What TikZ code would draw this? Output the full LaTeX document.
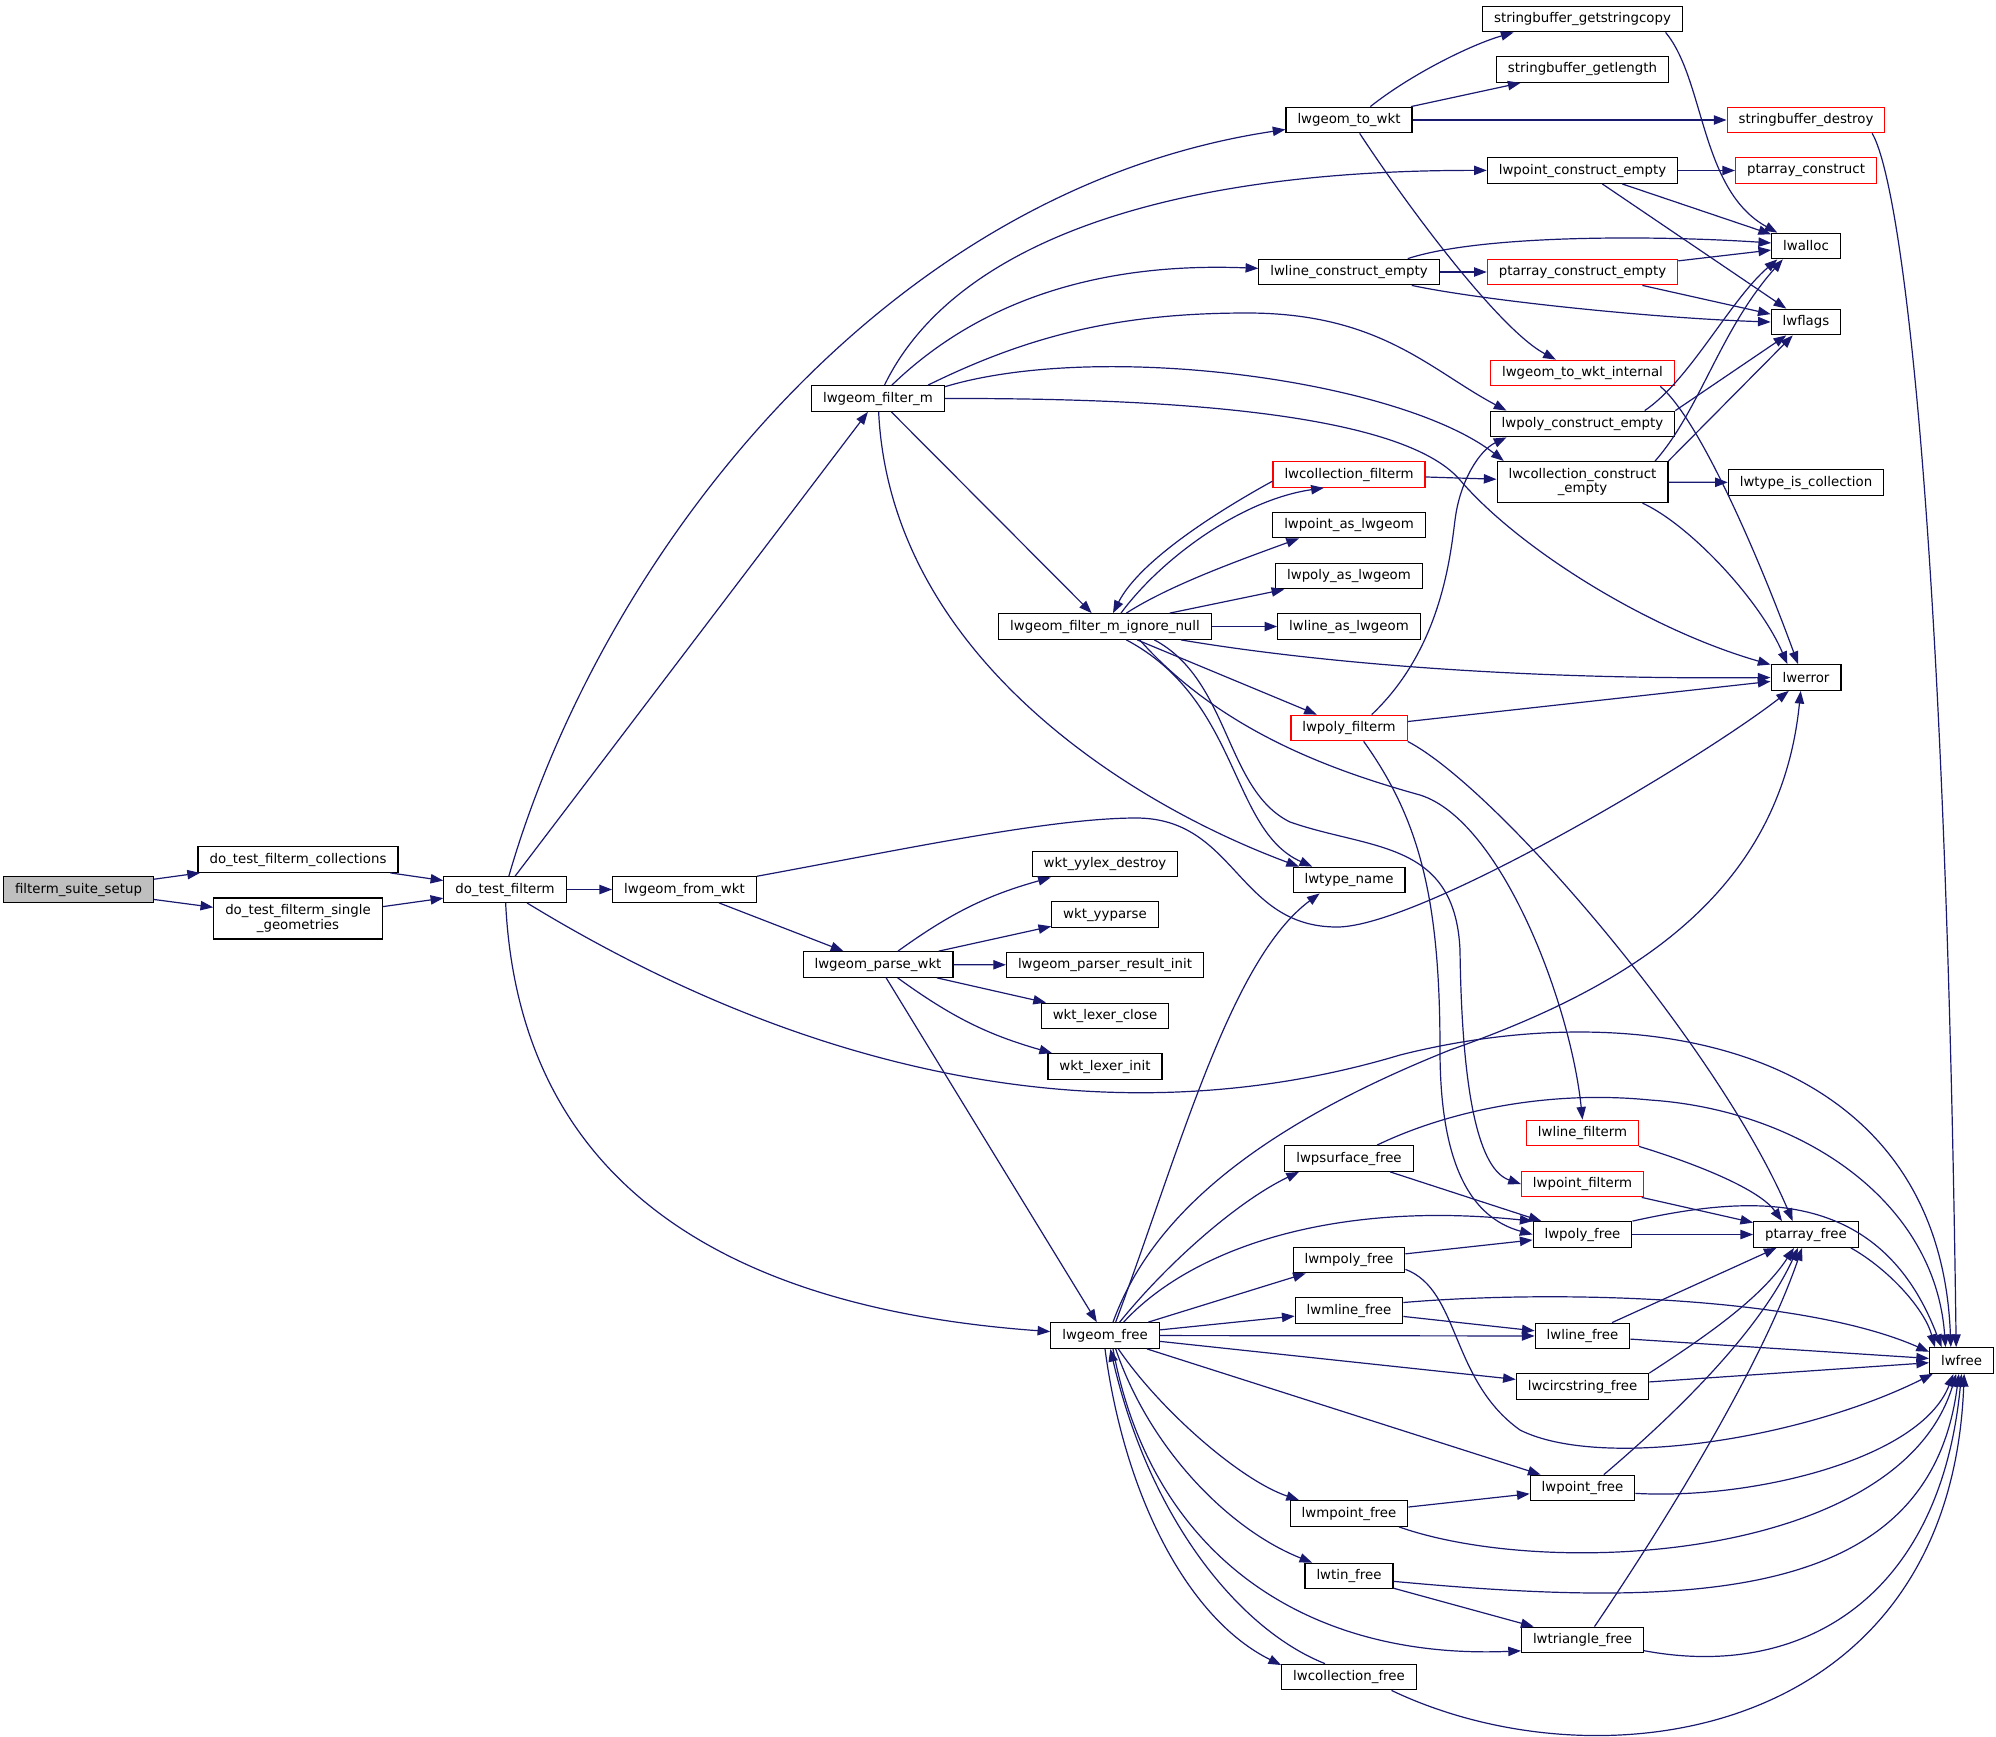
\documentclass[tikz,border=0pt]{standalone}
\usepackage{fontspec}
\setmainfont{DejaVu Sans}
\usetikzlibrary{arrows.meta}
\definecolor{edgeblue}{HTML}{191970}
\definecolor{rootgray}{HTML}{BFBFBF}

\begin{document}
\begin{tikzpicture}[->,>={Triangle[length=9.5pt,width=7pt]},x=0.75pt,y=-0.75pt,
	every edge/.style={draw=edgeblue,line width=0.9pt},
	call/.style={draw=edgeblue,line width=0.9pt},
	func node/.style={rectangle,draw=black,fill=white,line width=0.9pt,font=\fontsize{10}{10.7}\selectfont,inner xsep=8.6pt,inner ysep=2pt,minimum height=19.2pt,align=center},
	red node/.style={func node,draw=red},
	root node/.style={func node,fill=rootgray},
	two lines/.style={minimum height=30.75pt}]
	
	\useasboundingbox (0,0) rectangle (1996,1736);
	
	\node[root node] (S) at (78.5,889.5) {filterm\_suite\_setup};
	\node[func node] (C1) at (298,859.5) {do\_test\_filterm\_collections};
	\node[func node,two lines] (C2) at (298,918.5) {do\_test\_filterm\_single\\\_geometries};
	\node[func node] (T) at (505,889.5) {do\_test\_filterm};
	\node[func node] (F) at (684.5,889.5) {lwgeom\_from\_wkt};
	\node[func node] (M) at (878,398.5) {lwgeom\_filter\_m};
	\node[func node] (P) at (878,964.5) {lwgeom\_parse\_wkt};
	
	\node[func node] (I) at (1105,626.5) {lwgeom\_filter\_m\_ignore\_null};
	\node[func node] (YD) at (1105,864) {wkt\_yylex\_destroy};
	\node[func node] (YP) at (1105,914.5) {wkt\_yyparse};
	\node[func node] (PRI) at (1105,965) {lwgeom\_parser\_result\_init};
	\node[func node] (LC) at (1105,1016) {wkt\_lexer\_close};
	\node[func node] (LI) at (1105,1066.5) {wkt\_lexer\_init};
	\node[func node] (G) at (1105,1335.5) {lwgeom\_free};
	
	\node[func node] (W) at (1349,120) {lwgeom\_to\_wkt};
	\node[func node] (LCE) at (1349,272) {lwline\_construct\_empty};
	\node[red node] (CF) at (1349,474.5) {lwcollection\_filterm};
	\node[func node] (PAL) at (1349,525) {lwpoint\_as\_lwgeom};
	\node[func node] (YAL) at (1349,576) {lwpoly\_as\_lwgeom};
	\node[func node] (LAL) at (1349,626.5) {lwline\_as\_lwgeom};
	\node[red node] (PF) at (1349,728) {lwpoly\_filterm};
	\node[func node] (TN) at (1349,880) {lwtype\_name};
	\node[func node] (PSF) at (1349,1158.5) {lwpsurface\_free};
	\node[func node] (MPF) at (1349,1260) {lwmpoly\_free};
	\node[func node] (MLF) at (1349,1310.5) {lwmline\_free};
	\node[func node] (MPtF) at (1349,1513.5) {lwmpoint\_free};
	\node[func node] (TF) at (1349,1576) {lwtin\_free};
	\node[func node] (CoF) at (1349,1677) {lwcollection\_free};
	
	\node[func node] (SGC) at (1582.5,19) {stringbuffer\_getstringcopy};
	\node[func node] (SGL) at (1582.5,69.5) {stringbuffer\_getlength};
	\node[func node] (PCE) at (1582.5,170.5) {lwpoint\_construct\_empty};
	\node[red node] (PCEm) at (1582.5,272) {ptarray\_construct\_empty};
	\node[red node] (WI) at (1582.5,373) {lwgeom\_to\_wkt\_internal};
	\node[func node] (PyCE) at (1582.5,424) {lwpoly\_construct\_empty};
	\node[func node,two lines] (CCE) at (1582.5,482) {lwcollection\_construct\\\_empty};
	\node[red node] (LF) at (1582.5,1133) {lwline\_filterm};
	\node[red node] (PtF) at (1582.5,1184) {lwpoint\_filterm};
	\node[func node] (PyF) at (1582.5,1234.5) {lwpoly\_free};
	\node[func node] (LnF) at (1582.5,1336) {lwline\_free};
	\node[func node] (CSF) at (1582.5,1386.5) {lwcircstring\_free};
	\node[func node] (PtFr) at (1582.5,1488) {lwpoint\_free};
	\node[func node] (TrF) at (1582.5,1640) {lwtriangle\_free};
	
	\node[red node] (SD) at (1806,120) {stringbuffer\_destroy};
	\node[red node] (PC) at (1806,170.5) {ptarray\_construct};
	\node[func node] (AL) at (1806,246) {lwalloc};
	\node[func node] (FL) at (1806,322) {lwflags};
	\node[func node] (TIC) at (1806,482.5) {lwtype\_is\_collection};
	\node[func node] (E) at (1806,677.5) {lwerror};
	\node[func node] (PAF) at (1806,1234.5) {ptarray\_free};
	\node[func node] (L) at (1961.5,1360.5) {lwfree};
	
	\path
	(S) edge (C1)
	(S) edge (C2)
	(C1) edge (T)
	(C2) edge (T)
	(T) edge (F)
	(T) edge (M)
	(F) edge (P)
	(M) edge (I)
	(P) edge [bend left=10] (YD)
	(P) edge (YP)
	(P) edge (PRI)
	(P) edge (LC)
	(P) edge [bend right=10] (LI)
	(P) edge (G)
	(W) edge (SGL)
	(W) edge (SD)
	(I) edge (YAL)
	(I) edge (LAL)
	(I) edge (PF)
	(PF) edge (E)
	(CF) edge (CCE)
	(PCE) edge (PC)
	(PCE) edge (AL)
	(PCE) edge (FL)
	(LCE) edge (PCEm)
	(PCEm) edge (AL)
	(PCEm) edge (FL)
	(PyCE.north east) edge (FL)
	(CCE.north east) edge (FL)
	(CCE) edge (TIC)
	(G) edge (MPF)
	(G) edge (MLF)
	(G) edge (LnF)
	(G) edge (CSF)
	(G) edge (PtFr)
	(PSF) edge (PyF)
	(MPF) edge (PyF)
	(MLF) edge (LnF)
	(PtF) edge (PAF)
	(PyF) edge (PAF)
	(LnF) edge (PAF)
	(LnF) edge (L)
	(CSF) edge (L)
	(MPtF) edge (PtFr)
	(TF) edge (TrF)
	;
	
	\draw[call] (T) .. controls (600,560) and (880,190) .. (W);
	\draw[call] (T) .. controls (520,1200) and (750,1310) .. (G);
	\draw[call] (T) .. controls (850,1100) and (1150,1130) .. (1400,1055) .. controls (1650,992) and (1940,1050) .. ([xshift=-8pt]L.north);
	\draw[call] (F) .. controls (900,850) and (1050,818) .. (1136,818) .. controls (1236,818) and (1237,927) .. (1337,927) .. controls (1420,927) and (1700,760) .. (E);
	
	\draw[call] (M) .. controls (950,250) and (1150,170) .. (PCE);
	\draw[call] (M) .. controls (980,300) and (1100,262) .. (LCE);
	\draw[call] (M.15) .. controls (1030,335) and (1120,313) .. (1247,313) .. controls (1380,313) and (1430,370) .. (PyCE.170);
	\draw[call] (M.10) .. controls (1100,340) and (1400,380) .. (CCE.165);
	\draw[call] (M.east) .. controls (1150,398) and (1400,410) .. (1460,480) .. controls (1520,550) and (1650,630) .. (E.160);
	\draw[call] (M) .. controls (890,650) and (1120,800) .. (TN.165);
	
	\draw[call] ([xshift=12pt]I.north) .. controls (1160,560) and (1240,500) .. (CF.-152);
	\draw[call] (CF.185) .. controls (1220,510) and (1140,560) .. ([xshift=6pt]I.north);
	\draw[call] ([xshift=16pt]I.north) .. controls (1170,585) and (1240,560) .. (PAL.-165);
	\draw[call] (I.-10) .. controls (1300,660) and (1500,680) .. (E.west);
	\draw[call] ([xshift=16pt]I.south) .. controls (1240,700) and (1230,830) .. (TN.160);
	\draw[call] ([xshift=26pt]I.south) .. controls (1220,730) and (1330,770) .. (1420,795) .. controls (1500,820) and (1570,1000) .. (LF.north);
	\draw[call] ([xshift=37pt]I.south) .. controls (1230,680) and (1225,790) .. (1290,822) .. controls (1370,850) and (1455,840) .. (1460,950) .. controls (1462,1100) and (1480,1170) .. (PtF.west);
	
	\draw[call] ([xshift=17pt]PF.north) .. controls (1440,650) and (1450,560) .. (1455,520) .. controls (1460,480) and (1480,450) .. (PyCE.190);
	\draw[call] ([xshift=11pt]PF.south) .. controls (1420,820) and (1440,900) .. (1440,1050) .. controls (1440,1180) and (1480,1220) .. (PyF.west);
	\draw[call] (PF.south east) .. controls (1500,790) and (1720,1050) .. ([xshift=-10pt]PAF.north);
	
	\draw[call] ([xshift=16pt]W.north) .. controls (1410,75) and (1470,45) .. (SGC.-169);
	\draw[call] ([xshift=8pt]W.south) .. controls (1410,210) and (1500,330) .. ([xshift=-20pt]WI.north);
	\draw[call] ([xshift=-13pt]SGC.south east) .. controls (1705,80) and (1700,190) .. (AL.155);
	\draw[call] ([xshift=-10pt]SD.south east) .. controls (1900,180) and (1945,500) .. ([xshift=-4pt]L.north);
	\draw[call] ([xshift=-24pt]LCE.north east) .. controls (1480,235) and (1650,235) .. (AL.175);
	\draw[call] ([xshift=-21pt]LCE.south east) .. controls (1480,300) and (1650,318) .. (FL.west);
	\draw[call] ([xshift=-11pt]WI.south east) .. controls (1700,420) and (1760,560) .. ([xshift=-6pt]E.north);
	\draw[call] ([xshift=-23pt]PyCE.north east) .. controls (1690,380) and (1730,300) .. (AL.-155);
	\draw[call] ([xshift=-10pt]CCE.north east) .. controls (1700,410) and (1720,330) .. (AL.-150);
	\draw[call] ([xshift=45pt]CCE.south) .. controls (1690,525) and (1760,600) .. ([xshift=-14pt]E.north);
	
	\draw[call] ([xshift=6pt]G.north) .. controls (1150,1220) and (1250,1130) .. (1450,1050) .. controls (1620,990) and (1780,900) .. ([xshift=-4pt]E.south);
	\draw[call] ([xshift=8pt]G.north) .. controls (1180,1150) and (1230,960) .. ([xshift=-22pt]TN.south);
	\draw[call] ([xshift=11pt]G.north) .. controls (1170,1260) and (1240,1200) .. (PSF.-165);
	\draw[call] ([xshift=14pt]G.north) .. controls (1190,1250) and (1330,1200) .. (PyF.165);
	\draw[call] ([xshift=10pt]G.south) .. controls (1160,1410) and (1240,1480) .. (MPtF.165);
	\draw[call] ([xshift=8pt]G.south) .. controls (1150,1450) and (1230,1530) .. (TF.160);
	\draw[call] ([xshift=6pt]G.south) .. controls (1150,1550) and (1300,1660) .. (TrF.190);
	\draw[call] (G.south) .. controls (1125,1500) and (1190,1620) .. (CoF.170);
	\draw[call] ([xshift=-18pt]CoF.north) .. controls (1240,1630) and (1150,1520) .. ([xshift=4pt]G.south);
	
	\draw[call] ([xshift=21pt]PSF.north) .. controls (1450,1110) and (1550,1090) .. (1650,1100) .. controls (1800,1110) and (1935,1200) .. ([xshift=-12pt]L.north);
	\draw[call] (LF.south east) .. controls (1700,1165) and (1760,1190) .. ([xshift=-18pt]PAF.north);
	\draw[call] (PyF.north east) .. controls (1750,1195) and (1880,1185) .. ([xshift=-15pt]L.north);
	\draw[call] ([xshift=-6pt]PAF.south east) .. controls (1890,1270) and (1925,1310) .. ([xshift=-20pt]L.north);
	\draw[call] ([yshift=-7pt]MPF.east) .. controls (1460,1290) and (1450,1380) .. (1520,1430) .. controls (1600,1470) and (1800,1440) .. (L.-155);
	\draw[call] ([yshift=6pt]MLF.east) .. controls (1550,1290) and (1800,1295) .. (L.165);
	\draw[call] (CSF.north east) .. controls (1700,1340) and (1760,1300) .. ([xshift=-9pt]PAF.south);
	\draw[call] ([xshift=16pt]PtFr.north) .. controls (1680,1410) and (1760,1330) .. ([xshift=-6pt]PAF.south);
	\draw[call] ([yshift=-4pt]PtFr.east) .. controls (1750,1500) and (1920,1460) .. ([xshift=-6pt]L.south);
	\draw[call] ([xshift=-7pt]MPtF.south east) .. controls (1550,1580) and (1900,1560) .. ([xshift=-4pt]L.south);
	\draw[call] ([yshift=-4pt]TF.east) .. controls (1700,1610) and (1930,1600) .. ([xshift=-2pt]L.south);
	\draw[call] ([xshift=9pt]TrF.north) .. controls (1660,1530) and (1760,1370) .. ([xshift=-3pt]PAF.south);
	\draw[call] ([yshift=-8pt]TrF.east) .. controls (1800,1680) and (1940,1600) .. (L.south);
	\draw[call] ([xshift=-19pt]CoF.south east) .. controls (1600,1790) and (1950,1740) .. ([xshift=2pt]L.south);
	
\end{tikzpicture}
\end{document}
